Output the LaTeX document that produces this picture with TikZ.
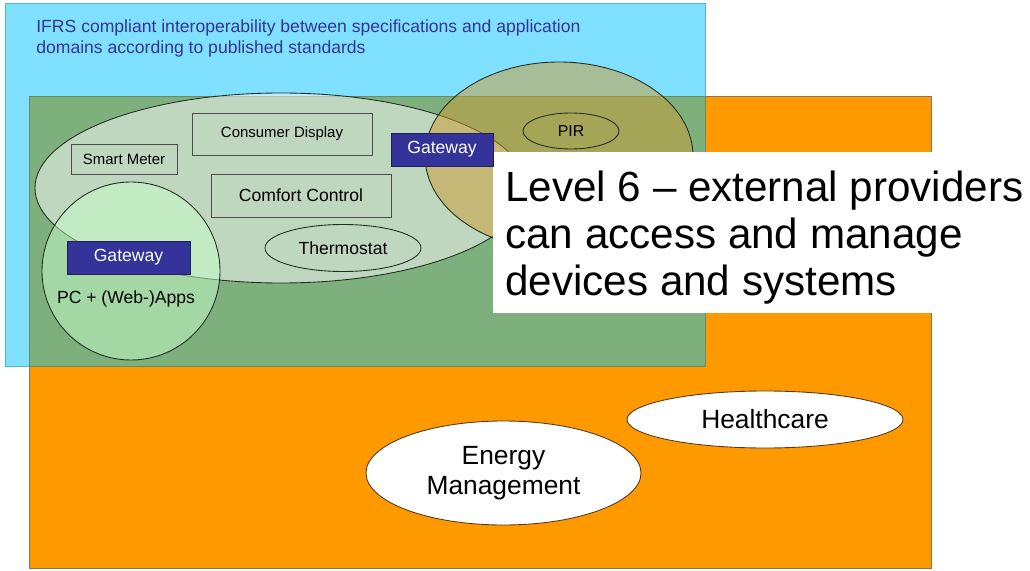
\documentclass[tikz,border=0pt]{standalone}
\usepackage{fontspec}
\setmainfont{Liberation Sans}
\usepackage{tikz}
\usetikzlibrary{shapes.geometric}
\usetikzlibrary{positioning}

\definecolor{skyfill}{RGB}{128,224,255}
\definecolor{skyline}{RGB}{80,180,210}
\definecolor{orangefill}{RGB}{255,153,0}
\definecolor{sagefill}{RGB}{126,176,126}
\definecolor{gwblue}{RGB}{51,51,153}
\definecolor{pirfill}{RGB}{205,155,50}
\definecolor{pcfill}{RGB}{200,255,200}
\definecolor{outline}{RGB}{35,45,35}
\definecolor{brownline}{RGB}{90,55,25}
\definecolor{titleblue}{RGB}{51,51,153}

\begin{document}
\begin{tikzpicture}[x=0.2mm,y=-0.2mm,
	box/.style={draw=black!70,line width=0.5pt,inner sep=0pt},
	gateway/.style={rectangle,fill=gwblue,draw=gwblue!60!black,line width=0.5pt,text=white,inner sep=0pt,font=\fontsize{10}{12}\selectfont},
	device/.style={ellipse,draw=outline,line width=0.5pt,inner sep=0pt},
	appdomain/.style={ellipse,fill=white,draw=brownline,line width=0.5pt,inner sep=0pt,align=center,font=\fontsize{15}{17}\selectfont},
	]
	\useasboundingbox (0,0) rectangle (1030,571);
	
	% interoperability area, application domains and their overlap
	\filldraw[fill=skyfill,draw=skyline,line width=0.5pt] (5,3) rectangle (705,366);
	\filldraw[fill=orangefill,draw=brownline!70,line width=0.5pt] (29,96) rectangle (931,568);
	\filldraw[fill=sagefill,draw=sagefill!80!black,line width=0.4pt] (29,96) rectangle (705,366);
	
	% home network, sensor cloud and PC
	\filldraw[fill=white,fill opacity=0.5,draw=outline,line width=0.5pt] (281,188) ellipse [x radius=246,y radius=95];
	\filldraw[fill=pirfill,fill opacity=0.5,draw=outline,line width=0.5pt] (559,156) ellipse [x radius=134,y radius=94];
	\filldraw[fill=pcfill,fill opacity=0.5,draw=outline,line width=0.5pt] (131,271) circle [radius=89];
	
	\node[box,minimum width=21.2mm,minimum height=6mm,font=\fontsize{8.5}{10}\selectfont] (meter) at (124,159) {Smart Meter};
	\node[box,minimum width=36mm,minimum height=8.4mm,font=\fontsize{8.5}{10}\selectfont] (display) at (282,134) {Consumer Display};
	\node[box,minimum width=36mm,minimum height=8.6mm,font=\fontsize{10}{12}\selectfont] (comfort) at (301,195.5) {Comfort Control};
	\node[device,minimum width=31.2mm,minimum height=9.4mm,font=\fontsize{10}{12}\selectfont] (thermo) at (343,248) {Thermostat};
	\node[device,minimum width=19.2mm,minimum height=7.2mm,font=\fontsize{9}{11}\selectfont] (pir) at (571,131) {PIR};
	\node[gateway,minimum width=24.6mm,minimum height=6.6mm] (gwpc) at (128.5,257.5) {Gateway};
	\node[font=\fontsize{10}{12}\selectfont] (pc) at (126,299) {PC + (Web-)Apps};
	
	% caption panel
	\fill[white] (493,152) rectangle (1030,313);
	\node[gateway,minimum width=20.4mm,minimum height=6.6mm] (gwhome) at (442,149.5) {Gateway};
	\node[anchor=base west,align=left,inner sep=0pt,font=\fontsize{24}{27}\selectfont] (level) at (505,296) {Level 6 – external providers\\can access and manage\\devices and systems};
	
	\node[appdomain,minimum width=55.2mm,minimum height=11.4mm] (health) at (765,419.5) {Healthcare};
	\node[appdomain,minimum width=55mm,minimum height=20.8mm] (energy) at (503.5,473) {Energy\\Management};
	
	\node[anchor=base west,align=left,inner sep=0pt,text=titleblue,font=\fontsize{10}{12}\selectfont] (ifrs) at (36,54) {IFRS compliant interoperability between specifications and application\\domains according to published standards};
\end{tikzpicture}
\end{document}
